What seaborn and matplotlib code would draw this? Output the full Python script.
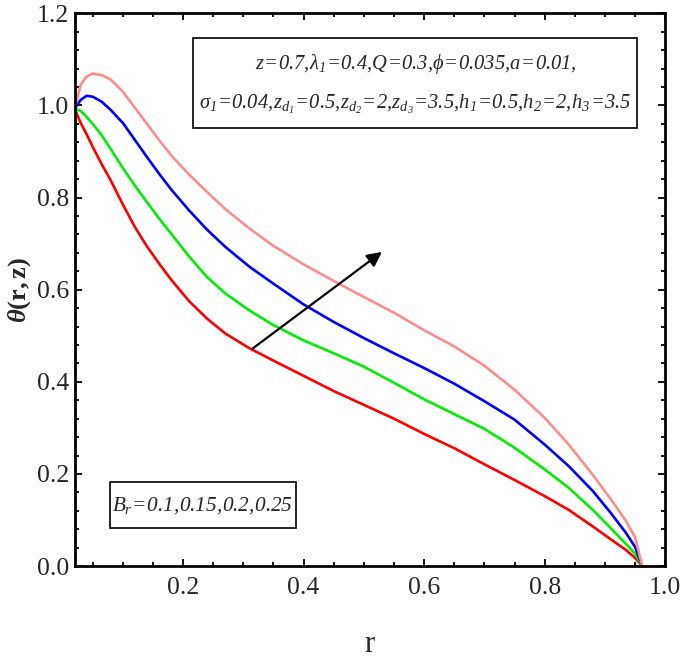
import matplotlib
matplotlib.use("Agg")
import matplotlib.pyplot as plt
import numpy as np
import pandas as pd
import seaborn as sns
from matplotlib.patches import Rectangle
from matplotlib.ticker import MultipleLocator

# values
r = [0.02, 0.03, 0.04, 0.05, 0.065, 0.08, 0.10, 0.12, 0.14, 0.16, 0.18, 0.21,
     0.24, 0.27, 0.31, 0.35, 0.40, 0.45, 0.50, 0.55, 0.60, 0.65, 0.70, 0.75,
     0.80, 0.84, 0.88, 0.91, 0.935, 0.95, 0.962]
theta_br_010 = [0.993, 0.962, 0.937, 0.91, 0.872, 0.837, 0.785, 0.736, 0.694, 0.657, 0.622, 0.575,
                0.537, 0.505, 0.473, 0.446, 0.413, 0.38, 0.35, 0.32, 0.287, 0.256, 0.221, 0.187,
                0.152, 0.122, 0.086, 0.058, 0.035, 0.018, 0.0]
theta_br_015 = [0.993, 0.988, 0.975, 0.96, 0.935, 0.905, 0.864, 0.826, 0.79, 0.755, 0.722, 0.672,
                0.627, 0.592, 0.555, 0.523, 0.49, 0.462, 0.433, 0.398, 0.362, 0.33, 0.298, 0.257,
                0.21, 0.17, 0.122, 0.082, 0.048, 0.027, 0.0]
theta_br_020 = [0.993, 1.012, 1.021, 1.019, 1.008, 0.99, 0.962, 0.925, 0.888, 0.852, 0.818, 0.772,
                0.73, 0.693, 0.65, 0.613, 0.568, 0.53, 0.495, 0.462, 0.43, 0.396, 0.358, 0.318,
                0.264, 0.217, 0.163, 0.115, 0.072, 0.042, 0.0]
theta_br_025 = [0.993, 1.045, 1.063, 1.069, 1.066, 1.056, 1.03, 0.995, 0.96, 0.925, 0.892, 0.85,
                0.812, 0.775, 0.733, 0.695, 0.655, 0.619, 0.584, 0.55, 0.512, 0.477, 0.435, 0.383,
                0.322, 0.264, 0.198, 0.145, 0.098, 0.063, 0.0]
br_labels = ["0.1", "0.15", "0.2", "0.25"]
line_colors = ["#ff0000", "#00ee00", "#0000ff", "#ff8c8c"]

df = pd.DataFrame({
    "r": r * 4,
    "theta": theta_br_010 + theta_br_015 + theta_br_020 + theta_br_025,
    "Br": np.repeat(br_labels, len(r)),
})

sns.set_style("ticks")
plt.rcParams["font.family"] = ["Liberation Serif", "DejaVu Serif"]
plt.rcParams["mathtext.fontset"] = "custom"
# the reference sets all math (digits and signs too) in italic
plt.rcParams["mathtext.rm"] = "Liberation Serif:italic"
plt.rcParams["mathtext.it"] = "Liberation Serif:italic"
plt.rcParams["mathtext.bf"] = "Liberation Serif:bold"
plt.rcParams["mathtext.bfit"] = "Liberation Serif:italic:bold"

fig = plt.figure(figsize=(6.85, 6.66), dpi=100)
ax = fig.add_axes([0.109, 0.150, 0.862, 0.830])

sns.lineplot(data=df, x="r", y="theta", hue="Br", palette=line_colors,
             linewidth=1.9, legend=False, ax=ax, sort=False)

ax.set_xlim(0.02, 1.0)
ax.set_ylim(0.0, 1.2)
ax.set_xticks([0.2, 0.4, 0.6, 0.8, 1.0])
ax.set_xticklabels(["0.2", "0.4", "0.6", "0.8", "1.0"])
ax.set_yticks([0.0, 0.2, 0.4, 0.6, 0.8, 1.0, 1.2])
ax.set_yticklabels(["0.0", "0.2", "0.4", "0.6", "0.8", "1.0", "1.2"])
ax.xaxis.set_minor_locator(MultipleLocator(0.05))
ax.yaxis.set_minor_locator(MultipleLocator(0.04))
ax.tick_params(which="both", direction="in", top=True, right=True, labelsize=18.5,
               width=1.3, color="black")
ax.tick_params(which="major", length=5)
ax.tick_params(axis="x", which="major", pad=8)
ax.tick_params(axis="y", which="major", pad=4)
ax.tick_params(which="minor", length=3)
for s in ax.spines.values():
    s.set_linewidth(2)
    s.set_color("black")

ax.set_xlabel("r", fontsize=22, labelpad=22)
ax.set_ylabel(r"$\mathbfit{\theta}\mathbf{(r,z)}$", fontsize=19, labelpad=3)

ax.annotate("", xy=(0.53, 0.682), xytext=(0.315, 0.472),
            arrowprops=dict(arrowstyle="-|>", color="black", lw=1.6,
                            mutation_scale=22, shrinkA=0, shrinkB=0))

# parameter box
ax.add_patch(Rectangle((0.2, 0.792), 0.753, 0.163, transform=ax.transAxes,
                       fc="white", ec="black", lw=1.2, zorder=4))
line1 = r"$z\!=\!0.7,\!\lambda_1\!=\!0.4,\!Q\!=\!0.3,\!\phi\!=\!0.035,\!a\!=\!0.01,$"
line2 = (r"$\sigma_1\!=\!0.04,\!z_{d_1}\!=\!0.5,\!z_{d_2}\!=\!2,\!z_{d_3}\!=\!3.5,"
         r"\!h_1\!=\!0.5,\!h_2\!=\!2,\!h_3\!=\!3.5$")
ax.text(0.577, 0.908, line1, transform=ax.transAxes, ha="center", va="center",
        fontsize=14.8, zorder=5)
ax.text(0.577, 0.835, line2, transform=ax.transAxes, ha="center", va="center",
        fontsize=14.8, zorder=5)

# Br box
ax.add_patch(Rectangle((0.059, 0.069), 0.316, 0.083, transform=ax.transAxes,
                       fc="white", ec="black", lw=1.2, zorder=4))
ax.text(0.217, 0.109, r"$B_r\!=\!0.1,\!0.15,\!0.2,\!0.25$", transform=ax.transAxes,
        ha="center", va="center", fontsize=15.3, zorder=5)

fig.savefig("out.png", dpi=100)
